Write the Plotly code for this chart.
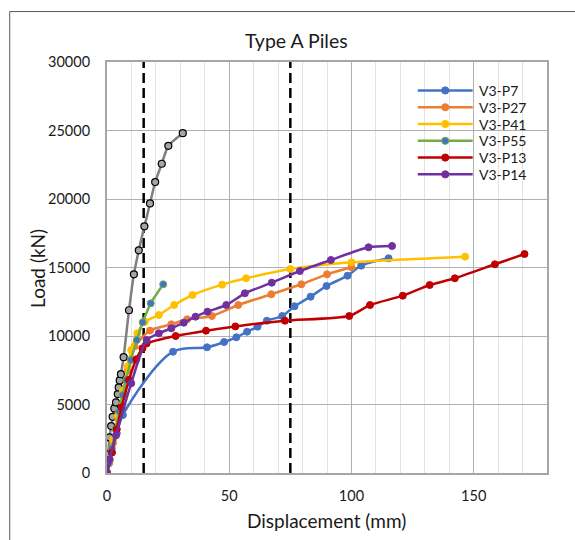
import plotly.graph_objects as go

# ---------------- data ----------------
gray_x = [0, 0.5, 1.0, 1.7, 2.3, 3.0, 3.7, 4.4, 4.8, 5.2, 5.7, 6.8, 9.0, 11.0, 13.0, 15.3, 17.6, 19.7, 22.4, 25.1, 31.0]
gray_y = [0, 1363, 2602, 3426, 4104, 4716, 5153, 5758, 6246, 6756, 7216, 8455, 11880, 14504, 16254, 18003, 19679, 21232, 22573, 23885, 24803]

p7_x = [0, 2.0, 4.0, 6.5, 27.0, 40.9, 47.9, 52.9, 57.3, 61.6, 65.4, 71.7, 76.7, 83.3, 89.8, 98.4, 104.0, 115.2]
p7_y = [0, 1500, 2900, 4234, 8854, 9175, 9562, 9905, 10314, 10679, 11117, 11460, 12170, 12870, 13650, 14404, 15135, 15670]

p27_x = [0, 1.0, 2.5, 4.5, 6.5, 8.5, 11.3, 17.6, 26.3, 32.8, 42.9, 53.7, 67.2, 79.5, 90.0, 100.0]
p27_y = [0, 800, 2200, 4000, 5800, 7500, 9250, 10400, 10852, 11216, 11460, 12262, 13044, 13774, 14503, 15014]

p41_x = [0, 1.0, 2.5, 4.5, 6.5, 8.5, 9.9, 12.4, 15.5, 21.2, 27.5, 35.0, 47.1, 56.9, 75.0, 100.0, 146.5]
p41_y = [0, 900, 2400, 4200, 6000, 7800, 8980, 10200, 11047, 11533, 12263, 12993, 13750, 14211, 14890, 15380, 15790]

p55_x = [0, 0.8, 2.0, 3.5, 5.0, 6.4, 7.8, 9.8, 12.2, 14.6, 17.9, 23.0]
p55_y = [0, 700, 1800, 3200, 4500, 5693, 6788, 8248, 9708, 11000, 12385, 13774]

p13_x = [0, 2.0, 4.0, 6.0, 9.0, 12.0, 14.5, 16.2, 28.1, 40.5, 52.5, 72.8, 99.1, 107.6, 121.0, 132.0, 142.3, 158.7, 170.8]
p13_y = [0, 1500, 3200, 4800, 6800, 8300, 9100, 9450, 10000, 10390, 10700, 11117, 11460, 12263, 12942, 13723, 14211, 15234, 15985]

p14_x = [0, 1.1, 3.7, 9.9, 16.2, 21.2, 26.3, 31.4, 36.2, 41.1, 48.8, 56.4, 67.4, 78.9, 91.6, 107.0, 116.6]
p14_y = [0, 1000, 2750, 6550, 9700, 10195, 10560, 10970, 11410, 11775, 12263, 13117, 13893, 14744, 15550, 16475, 16570]

dash_x1 = [15, 15]
dash_x2 = [75, 75]
dash_y = [0, 30000]

series_names = ["V3-P7", "V3-P27", "V3-P41", "V3-P55", "V3-P13", "V3-P14"]
series = [
    (series_names[0], p7_x, p7_y, "#4472C4", "#4472C4", 1.0),
    (series_names[1], p27_x, p27_y, "#ED7D31", "#ED7D31", 0.6),
    (series_names[2], p41_x, p41_y, "#FFC000", "#FFC000", 0.6),
    (series_names[3], p55_x, p55_y, "#70AD47", "#4472C4", 0.6),
    (series_names[4], p13_x, p13_y, "#C00000", "#C00000", 0.6),
    (series_names[5], p14_x, p14_y, "#7030A0", "#7030A0", 0.6),
]

fig = go.Figure()

for dx in (dash_x1, dash_x2):
    fig.add_trace(go.Scatter(x=dx, y=dash_y, mode="lines", showlegend=False,
                             line=dict(color="black", width=2.5, dash="10px,5px"),
                             hoverinfo="skip"))

fig.add_trace(go.Scatter(x=gray_x, y=gray_y, mode="lines+markers", showlegend=False,
                         line=dict(color="#7F7F7F", width=2.5, shape="spline", smoothing=0.6),
                         marker=dict(size=7, color="#A5A5A5", line=dict(color="black", width=1.2))))

for name, xs, ys, lc, mc, sm in series:
    fig.add_trace(go.Scatter(x=xs, y=ys, mode="lines+markers", name=name, showlegend=False,
                             line=dict(color=lc, width=2.5, shape="spline", smoothing=sm),
                             marker=dict(size=7, color=mc, line=dict(color=lc, width=1))))

font = "Lato, 'Open Sans', sans-serif"
W, H = 575, 540
L, R, T, B = 106.5, 547.5, 61.5, 473


def px(xp):
    return (xp - L) / (R - L)


def py(yp):
    return (B - yp) / (B - T)


shapes = [dict(type="rect", xref="paper", yref="paper",
               x0=px(9), x1=2.0, y0=-1.0, y1=py(11),
               line=dict(color="#595959", width=1), fillcolor="rgba(0,0,0,0)", layer="below")]
annotations = [
    dict(text="Type A Piles", xref="paper", yref="paper", x=px(296), y=py(40),
         showarrow=False, font=dict(size=19.5, color="#1a1a1a"), xanchor="center", yanchor="middle"),
    dict(text="Load (kN)", xref="paper", yref="paper", x=px(37), y=py(268),
         showarrow=False, textangle=-90, font=dict(size=19, color="#1a1a1a"), xanchor="center", yanchor="middle"),
    dict(text="Displacement (mm)", xref="paper", yref="paper", x=px(326), y=py(521),
         showarrow=False, font=dict(size=19, color="#1a1a1a"), xanchor="center", yanchor="middle"),
]

# legend (drawn as layout decorations)
leg_x0, leg_x1, leg_text_x, leg_y0, leg_dy, r = 418, 473, 477, 90, 16.8, 3.6
for i, (name, xs, ys, lc, mc, sm) in enumerate(series):
    yy = leg_y0 + i * leg_dy
    cx = (leg_x0 + leg_x1) / 2
    shapes.append(dict(type="line", xref="paper", yref="paper", x0=px(leg_x0), x1=px(leg_x1),
                       y0=py(yy), y1=py(yy), line=dict(color=lc, width=2.5)))
    shapes.append(dict(type="circle", xref="paper", yref="paper", x0=px(cx - r), x1=px(cx + r),
                       y0=py(yy + r), y1=py(yy - r), fillcolor=mc, line=dict(color=lc, width=1)))
    annotations.append(dict(text=name, xref="paper", yref="paper", x=px(leg_text_x), y=py(yy),
                            showarrow=False, xanchor="left", yanchor="middle",
                            font=dict(size=14, color="#1a1a1a")))

fig.update_layout(
    width=W, height=H,
    margin=dict(l=L, r=W - R, t=T, b=H - B, pad=0),
    paper_bgcolor="white", plot_bgcolor="white",
    font=dict(family=font, size=14, color="#1a1a1a"),
    showlegend=False,
    xaxis=dict(range=[0, 180], dtick=50, tick0=0, showgrid=True, gridcolor="#B0B0B0", gridwidth=1,
               minor=dict(dtick=10, showgrid=True, gridcolor="#E2E2E2", gridwidth=1),
               showline=True, linecolor="#A6A6A6", linewidth=2, mirror=True,
               ticks="", zeroline=False, tickfont=dict(size=14.5), ticklabelstandoff=9),
    yaxis=dict(range=[0, 30000], dtick=5000, tick0=0, tickformat="d", showgrid=True, gridcolor="#B0B0B0", gridwidth=1,
               showline=True, linecolor="#A6A6A6", linewidth=2, mirror=True,
               ticks="", zeroline=False, tickfont=dict(size=14.5), ticklabelstandoff=12),
    shapes=shapes,
    annotations=annotations,
)

fig.write_html("out.html")
